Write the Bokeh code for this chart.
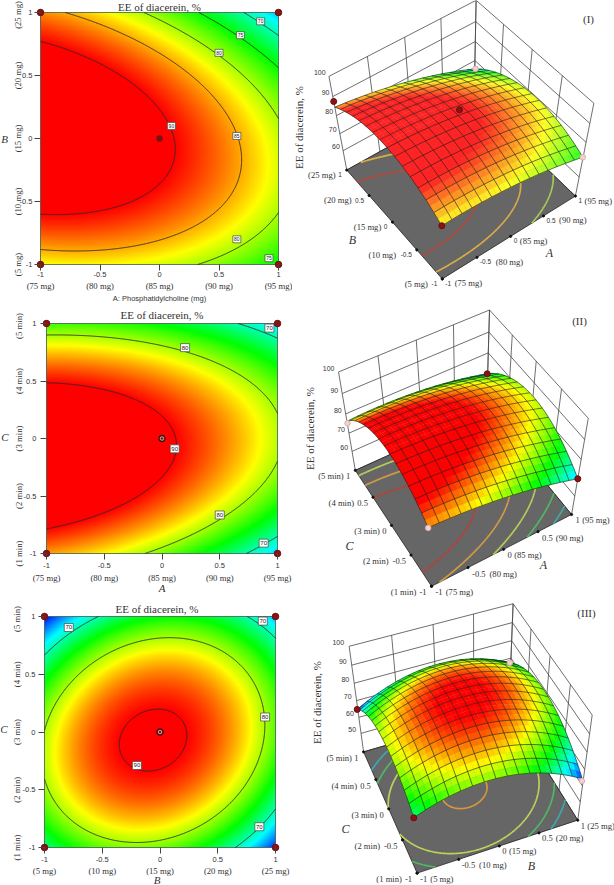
import numpy as np
from math import pi
from contourpy import contour_generator
from bokeh.plotting import figure
from bokeh.models import FixedTicker, Range1d
from bokeh.core.properties import value
from bokeh.embed import file_html
from bokeh.resources import INLINE

# ---------- data ----------
coded_ticks = [-1, -0.5, 0, 0.5, 1]
A_levels = ["(75 mg)", "(80 mg)", "(85 mg)", "(90 mg)", "(95 mg)"]
B_levels = ["(5 mg)", "(10 mg)", "(15 mg)", "(20 mg)", "(25 mg)"]
C_levels = ["(1 min)", "(2 min)", "(3 min)", "(4 min)", "(5 min)"]

# EE (%) at coded levels: rows = vertical factor -1..1, columns = horizontal factor -1..1
EE_AB = [[82.36, 82.66, 81.50, 78.90, 74.84],
         [91.38, 90.87, 88.90, 85.49, 80.62],
         [95.00, 93.68, 90.90, 86.68, 81.00],
         [93.22, 91.09, 87.50, 82.47, 75.98],
         [86.04, 83.10, 78.70, 72.86, 65.56]]
EE_AC = [[85.45, 82.77, 78.63, 73.05, 66.01],
         [94.03, 91.92, 88.36, 83.35, 76.89],
         [95.45, 93.92, 90.93, 86.50, 80.61],
         [89.73, 88.77, 86.36, 82.50, 77.19],
         [76.85, 76.47, 74.63, 71.35, 66.61]]
EE_BC = [[71.39, 77.88, 78.38, 72.87, 61.36],
         [79.31, 86.77, 88.22, 83.68, 73.13],
         [80.08, 88.49, 90.91, 87.32, 77.74],
         [73.69, 83.07, 86.44, 83.82, 75.19],
         [60.17, 70.50, 74.84, 73.17, 65.51]]

levels_AB = [70, 75, 80, 85, 90]
levels_AC = [70, 80, 90]
levels_BC = [70, 80, 90]

tags_AB = [(0.10, 0.10, "90"), (0.65, 0.02, "85"), (0.50, 0.68, "80"), (0.68, 0.82, "75"),
           (0.85, 0.93, "70"), (0.65, -0.80, "80"), (0.92, -0.95, "75")]
tags_AC = [(0.11, -0.09, "90"), (0.20, 0.79, "80"), (0.50, -0.665, "80"),
           (0.93, 0.96, "70"), (0.88, -0.91, "70")]
tags_BC = [(-0.20, -0.29, "90"), (0.91, 0.13, "80"), (-0.79, 0.905, "70"),
           (0.89, 0.96, "70"), (0.86, -0.82, "70")]

corner_x = [-1, 1, -1, 1]
corner_y = [-1, -1, 1, 1]

# measured response at the design points: dark = above the surface, pink = below it
pts_AB = [(-1, 1, 89.0, 1), (0, 0, 91.0, 1), (-1, -1, 82.4, 1), (1, -1, 74.8, 0), (1, 1, 65.6, 0)]
pts_AC = [(-1, 1, 75.8, 0), (1, 1, 66.6, 1), (1, -1, 66.0, 1), (-1, -1, 85.4, 0)]
pts_BC = [(-1, 1, 60.2, 1), (1, -1, 60.0, 0), (-1, -1, 71.4, 1), (1, 1, 65.5, 0)]

floor_levels_AB = [90, 85, 80, 75, 70]
floor_colors_AB = ["#b04a3e", "#d8ac48", "#a9c85c", "#4fb463", "#3fa8a0"]
floor_levels_AC = [90, 85, 80, 75, 70]
floor_colors_AC = ["#b0433c", "#d29a44", "#b5cc58", "#52b860", "#3eaaa6"]
floor_levels_BC = [90, 80, 75, 70]
floor_colors_BC = ["#d4983e", "#bcd25a", "#4fb863", "#3aa8b0"]

z_ticks_AB = [60, 70, 80, 90, 100]
z_ticks_AC = [60, 70, 80, 90, 100]
z_ticks_BC = [50, 60, 70, 80, 90, 100]

SERIF = "Liberation Serif"
SANS = "Liberation Sans"
INK = "#333333"

# ---------- helpers ----------
NODES = np.array(coded_ticks, dtype=float)
_VI = np.linalg.inv(np.vander(NODES, 5))


def smooth(grid, u, v):
    return np.vander(v, 5) @ _VI @ np.array(grid) @ _VI.T @ np.vander(u, 5).T


VAL_STOPS = [60, 67.5, 75, 82.5, 90]
R_STOPS = [0, 0, 0, 255, 255]
G_STOPS = [0, 255, 255, 255, 0]
B_STOPS = [255, 255, 0, 0, 0]


def cmap(z):
    return (np.interp(z, VAL_STOPS, R_STOPS), np.interp(z, VAL_STOPS, G_STOPS), np.interp(z, VAL_STOPS, B_STOPS))


def place(p, left, top):
    p.styles = {"position": "absolute", "left": f"{left}px", "top": f"{top}px"}
    return p


def contour_panel(left, top, W, H, ix, iy, iw, ih, grid, levels, tags, xlabels, ylabels,
                  xtitle, ytitle, xtitle_style, title_dx, title_dy, tag_w, tag_h, tag_size, ring,
                  x_stand, y_stand, px_dy, py_dx, xt_dy, xt_dx, yt_dx, yt_dy):
    sx, sy = iw / 2, ih / 2
    p = figure(width=W, height=H, output_backend="svg", toolbar_location=None,
               x_range=Range1d(-1 - ix / sx, -1 + (W - ix) / sx),
               y_range=Range1d(1 - (H - iy) / sy, 1 + iy / sy),
               min_border=0)
    p.grid.visible = False
    p.outline_line_color = None
    p.background_fill_color = "white"

    u = np.linspace(-1, 1, 300)
    z = smooth(grid, u, u)
    r, g, b = cmap(z)
    img = (np.uint32(255) << 24) | (b.astype(np.uint32) << 16) | (g.astype(np.uint32) << 8) | r.astype(np.uint32)
    p.image_rgba(image=[img], x=-1, y=-1, dw=2, dh=2)
    p.rect(x=[0], y=[0], width=2, height=2, fill_color=None, line_color="#3c5a44", line_width=0.8)

    gen = contour_generator(u, u, z)
    xs, ys = [], []
    for lev in levels:
        for seg in gen.lines(lev):
            xs.append(seg[:, 0])
            ys.append(seg[:, 1])
    p.multi_line(xs, ys, line_color="#2b2b2b", line_width=0.9)

    tx = [t[0] for t in tags]
    ty = [t[1] for t in tags]
    tt = [t[2] for t in tags]
    p.rect(x=tx, y=ty, width=tag_w, height=tag_h, width_units="screen", height_units="screen",
           fill_color="white", line_color="#444444", line_width=0.7)
    p.text(x=tx, y=ty, text=tt, text_font=value(SANS), text_font_size=tag_size, text_color="#222222",
           text_align="center", text_baseline="middle")

    p.scatter(corner_x, corner_y, size=6.5, color="#8a1414", line_color="#6a0c0c")
    p.scatter([0], [0], size=6.5, color="#7a1212", line_color="#1a1a1a", line_width=1.0 if ring else 0)
    if ring:
        p.scatter([0], [0], size=3.5, fill_color=None, line_color="#e8e0e0", line_width=0.7)

    ticker = FixedTicker(ticks=coded_ticks)
    for ax, st, where in ((p.xaxis[0], x_stand, -1), (p.yaxis[0], y_stand, -1)):
        ax.fixed_location = where
        ax.ticker = ticker
        ax.axis_line_color = None
        ax.major_tick_in = 0
        ax.major_tick_out = 6
        ax.minor_tick_line_color = None
        ax.major_tick_line_color = "#444444"
        ax.major_label_standoff = st
        ax.major_label_text_font = SANS
        ax.major_label_text_font_size = "7.5px"
        ax.major_label_text_color = INK
        ax.major_label_overrides = {t: str(t) for t in coded_ticks}

    def lab(x, y, text, xo, yo, font, size, style="normal", angle=0):
        p.text([x], [y], text=[text], x_offset=xo, y_offset=-yo, angle=angle,
               text_font=value(font), text_font_size=size, text_font_style=style, text_color=INK,
               text_align="center", text_baseline="middle")

    for t, s in zip(coded_ticks, xlabels):
        lab(t, -1, s, 0, px_dy, SERIF, "8.7px")
    for t, s in zip(coded_ticks, ylabels):
        lab(-1, t, s, py_dx, -2.5 if t == 1 else 0, SERIF, "8.7px", angle=pi / 2)
    lab(0, -1, xtitle, xt_dx, xt_dy, xtitle_style[0], xtitle_style[1], xtitle_style[2])
    lab(-1, 0, ytitle, yt_dx, yt_dy, SERIF, "11px", "italic")
    lab(0, 1, "EE of diacerein, %", title_dx, title_dy, SERIF, "11px")
    return place(p, left, top)


def camera(world, pixels):
    M, rhs = [], []
    for (X, Y, Z), (px, py) in zip(world, pixels):
        Z = (Z - 75) / 25
        M.append([X, Y, Z, 1, 0, 0, 0, 0, -px * X, -px * Y, -px * Z])
        M.append([0, 0, 0, 0, X, Y, Z, 1, -py * X, -py * Y, -py * Z])
        rhs += [px, py]
    sol = np.linalg.lstsq(np.array(M, float), np.array(rhs, float), rcond=None)[0]

    def project(X, Y, Z):
        X, Y, Z = np.asarray(X, float), np.asarray(Y, float), (np.asarray(Z, float) - 75) / 25
        w = sol[8] * X + sol[9] * Y + sol[10] * Z + 1
        return ((sol[0] * X + sol[1] * Y + sol[2] * Z + sol[3]) / w,
                (sol[4] * X + sol[5] * Y + sol[6] * Z + sol[7]) / w)
    return project


def surface_panel(height, ytop, world, pixels, surf_corners, zfloor, grid, zticks, floor_levels, floor_colors, pts,
                  hlabels, vlabels, hname, vname, hname_xy, vname_xy, ztitle_xy, roman, roman_xy,
                  sheen, num_font, num_size, num_char, rlab, llab, zlab):
    project = camera(world, pixels)
    p = figure(width=322, height=height, output_backend="svg", toolbar_location=None,
               x_range=Range1d(292, 614), y_range=Range1d(ytop + height, ytop),
               min_border=0, x_axis_type=None, y_axis_type=None)
    p.grid.visible = False
    p.outline_line_color = None

    # the surface's four corners are pinned to where the picture shows them
    G = np.array(grid)
    cz = [G[0, 0], G[0, 4], G[4, 0], G[4, 4]]
    cu = np.array([-1.0, 1.0, -1.0, 1.0])
    cv = np.array([-1.0, -1.0, 1.0, 1.0])
    px0, py0 = project(cu, cv, cz)
    dx = np.array([c[0] for c in surf_corners]) - px0
    dy = np.array([c[1] for c in surf_corners]) - py0

    def sproject(U, V, Z):
        U, V = np.asarray(U, float), np.asarray(V, float)
        a, b = (1 + U) / 2, (1 + V) / 2
        w = [(1 - a) * (1 - b), a * (1 - b), (1 - a) * b, a * b]
        qx_, qy_ = project(U, V, Z)
        return qx_ + sum(wi * d for wi, d in zip(w, dx)), qy_ + sum(wi * d for wi, d in zip(w, dy))

    # walls
    xs, ys = [], []
    e = np.array([-1.0, 1.0])
    for t in coded_ticks:
        for a, b in ((t, 1), (1, t)):
            px, py = project([a, a], [b, b], [zfloor, 100])
            xs.append(px); ys.append(py)
    for z in [zfloor] + zticks:
        px, py = project(e, [1, 1], [z, z]); xs.append(px); ys.append(py)
        px, py = project([1, 1], e, [z, z]); xs.append(px); ys.append(py)
    p.multi_line(xs, ys, line_color="#4a4a4a", line_width=0.8)

    # floor
    fx, fy = project([-1, 1, 1, -1], [-1, -1, 1, 1], [zfloor] * 4)
    p.patch(fx, fy, fill_color="#666666", line_color="#222222", line_width=0.8)
    u = np.linspace(-1, 1, 160)
    z = smooth(grid, u, u)
    gen = contour_generator(u, u, z)
    for lev, col in zip(floor_levels, floor_colors):
        for seg in gen.lines(lev):
            px, py = project(seg[:, 0], seg[:, 1], np.full(len(seg), zfloor))
            p.line(px, py, line_color=col, line_width=1.7)
    tx1, ty1 = project(coded_ticks, [-1] * 5, [zfloor] * 5)
    tx2, ty2 = project([-1] * 5, coded_ticks, [zfloor] * 5)
    p.scatter(np.r_[tx1, tx2], np.r_[ty1, ty2], size=2.2, color="#111111")

    # surface fills
    n_mesh = 15
    sub = 2
    nodes = np.linspace(-1, 1, n_mesh * sub + 1)
    Z = smooth(grid, nodes, nodes)
    X, Y = np.meshgrid(nodes, nodes)
    SX, SY = sproject(X, Y, Z)
    order = []
    n = len(nodes) - 1
    for j in range(n):
        for i in range(n):
            order.append((-(nodes[i] + nodes[j]), i, j))
    order.sort()
    qx, qy, qc = [], [], []
    for _, i, j in order:
        qx.append([SX[j, i], SX[j, i + 1], SX[j + 1, i + 1], SX[j + 1, i]])
        qy.append([SY[j, i], SY[j, i + 1], SY[j + 1, i + 1], SY[j + 1, i]])
        zz = Z[j:j + 2, i:i + 2].mean()
        r, g, b = cmap(zz)
        r, g, b = [int(c + (255 - c) * sheen) for c in (r, g, b)]
        qc.append("#%02x%02x%02x" % (r, g, b))
    p.patches(qx, qy, fill_color=qc, line_color=qc, line_width=0.4)

    # surface mesh
    lx, ly = [], []
    for k in range(0, len(nodes), sub):
        lx.append(SX[k, :]); ly.append(SY[k, :])
        lx.append(SX[:, k]); ly.append(SY[:, k])
    p.multi_line(lx, ly, line_color="#1c1c1c", line_width=0.7, line_alpha=0.85)

    # design points
    for a, b, zv, up in pts:
        px, py = sproject([a], [b], [zv])
        if up:
            p.scatter(px, py, size=6, color="#8a1414", line_color="#6a0c0c")
        else:
            p.scatter(px, py, size=5.5, fill_color="#f6cfcf", line_color="#d8b0b0")

    # tick labels
    tk = dict(text_font=value(SERIF), text_font_size="8.6px", text_color=INK, text_baseline="middle")
    nk = dict(text_font=value(num_font), text_font_size=num_size, text_color=INK, text_baseline="middle")
    for t, plain, lab in zip(coded_ticks, map(str, coded_ticks), hlabels):
        px, py = project([t], [-1], [zfloor])
        x0, y0 = float(px[0]) + rlab[0], float(py[0]) + rlab[1]
        p.text([x0], [y0], text=[plain], text_align="left", **nk)
        p.text([x0 + len(plain) * num_char + 3], [y0], text=[lab], text_align="left", **tk)
    for t, plain, lab in zip(coded_ticks, map(str, coded_ticks), vlabels):
        px, py = project([-1], [t], [zfloor])
        x0, y0 = float(px[0]) + llab[0], float(py[0]) + llab[1]
        p.text([x0], [y0], text=[plain], text_align="right", **nk)
        p.text([x0 - len(plain) * num_char - 3], [y0], text=[lab], text_align="right", **tk)
    for z in zticks:
        px, py = project([-1], [1], [z])
        p.text([float(px[0]) + zlab[0]], [float(py[0]) + zlab[1]], text=[str(z)], text_align="right",
               text_font=value(SANS), text_font_size="7px", text_color=INK, text_baseline="middle")

    it = dict(text_font=value(SERIF), text_font_size="12px", text_font_style="italic", text_color=INK,
              text_align="center", text_baseline="middle")
    p.text([hname_xy[0]], [hname_xy[1]], text=[hname], **it)
    p.text([vname_xy[0]], [vname_xy[1]], text=[vname], **it)
    p.text([ztitle_xy[0]], [ztitle_xy[1]], text=["EE of diacerein, %"], angle=pi / 2,
           text_font=value(SERIF), text_font_size="11px", text_color=INK,
           text_align="center", text_baseline="middle")
    p.text([roman_xy[0]], [roman_xy[1]], text=[roman], text_font=value(SERIF), text_font_size="11px",
           text_color=INK, text_align="center", text_baseline="middle")
    return place(p, 292, ytop)


# ---------- panels ----------
sans_lab = (SANS, "7.5px", "normal")
serif_it = (SERIF, "11px", "italic")

L1 = contour_panel(0, 0, 292, 304, 40, 12, 238, 252, EE_AB, levels_AB, tags_AB, A_levels, B_levels,
                   "A: Phosphatidylcholine (mg)", "B", sans_lab, 0, 6, 8, 7, "5px", False,
                   1, 2, -21.5, -22.7, -34, 0, -36, 0)
L2 = contour_panel(0, 304, 292, 292, 46, 19, 231, 230, EE_AC, levels_AC, tags_AC, A_levels, C_levels,
                   "A", "C", serif_it, 0, 8.5, 9, 8, "6px", True,
                   3, 4, -24.7, -28, -34, 0, -41.7, 2)
L3 = contour_panel(0, 596, 292, 289, 44, 20, 231, 231, EE_BC, levels_BC, tags_BC, B_levels, C_levels,
                   "B", "C", serif_it, -3, 8, 9, 8, "6px", True,
                   3, 3, -23, -27.3, -32, -3, -40.7, 3)

R1 = surface_panel(302, 0,
                   [(-1, -1, 48), (1, -1, 48), (-1, 1, 48), (1, 1, 48), (-1, 1, 100), (1, 1, 100), (1, -1, 100), (-1, 1, 60)],
                   [(441.7, 278.3), (575, 195.7), (347.3, 170.7), (473.3, 98.3), (328.3, 76), (476, 0), (593.3, 102.7), (341.7, 149)],
                   [(441.3, 225.3), (582.3, 156.7), (334.3, 106.7), (475, 68.3)],
                   48, EE_AB, z_ticks_AB, floor_levels_AB, floor_colors_AB, pts_AB,
                   A_levels, B_levels, "A", "B", (549, 252), (352, 239), (298, 127), "(I)", (588, 18),
                   0.14, SANS, "6.5px", 3.2, (3, 4.5), (-5, 4.7), (-3.3, -4))
R2 = surface_panel(296, 302,
                   [(-1, -1, 49), (1, -1, 49), (-1, 1, 49), (1, 1, 49), (-1, 1, 100), (1, 1, 100), (1, -1, 100), (-1, 1, 60)],
                   [(431.7, 585.7), (570, 515), (355, 470.7), (486.7, 410), (337.7, 372.3), (489, 310), (588.3, 416.7), (351, 449.3)],
                   [(427.7, 527.3), (577.3, 478.3), (346.7, 420.7), (486.7, 373.3)],
                   49, EE_AC, z_ticks_AC, floor_levels_AC, floor_colors_AC, pts_AC,
                   A_levels, C_levels, "A", "C", (543, 564), (349, 545), (309, 428), "(II)", (579, 320),
                   0.0, SERIF, "8.5px", 3.6, (4, 6), (-5, 6), (-4, -3.5))
R3 = surface_panel(287, 598,
                   [(-1, -1, 38), (1, -1, 38), (-1, 1, 38), (1, 1, 38), (-1, 1, 100), (1, 1, 100), (1, -1, 100), (-1, 1, 50)],
                   [(417.3, 872.3), (575.7, 821), (364, 753.3), (509.3, 708), (348.3, 646.3), (512.3, 604.3), (592.7, 713.3), (359.3, 730.7)],
                   [(413.3, 817.3), (581.7, 778.3), (356.7, 709), (509.3, 662.3)],
                   38, EE_BC, z_ticks_BC, floor_levels_BC, floor_colors_BC, pts_BC,
                   B_levels, C_levels, "B", "C", (531, 865), (345, 828), (316, 702), "(III)", (586, 612),
                   0.0, SERIF, "8.5px", 3.6, (3, 5.5), (-5, 6), (-5, -4))

open("out.html", "w").write(file_html([L1, L2, L3, R1, R2, R3], INLINE))
